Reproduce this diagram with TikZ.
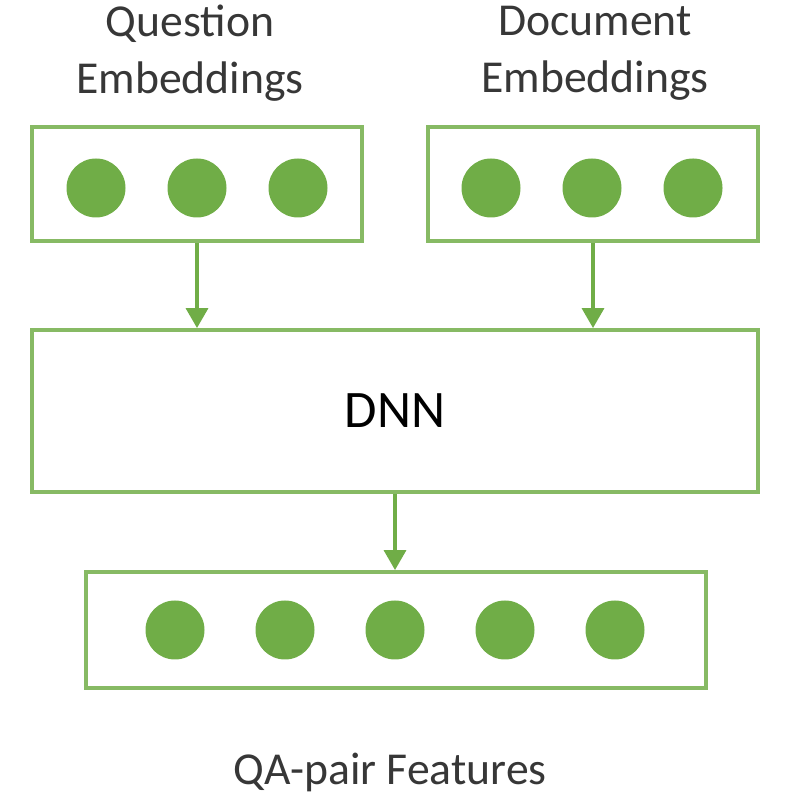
\documentclass[tikz,border=0pt]{standalone}
\usepackage{fontspec}
\setmainfont{Carlito}
\usetikzlibrary{arrows.meta}
\definecolor{boxgreen}{RGB}{135,186,100}
\definecolor{dotgreen}{RGB}{112,173,71}
\definecolor{textgray}{RGB}{55,55,55}
\tikzset{
	vecbox/.style={draw=boxgreen, line width=1.1pt, minimum height=1.14cm, inner sep=0pt},
	unit/.style={circle, fill=dotgreen, minimum size=0.59cm, inner sep=0pt},
	flow/.style={draw=dotgreen, line width=1pt, -{Triangle[length=2mm,width=2.2mm]}},
	lbl/.style={text=textgray, font=\fontsize{13}{16.2}\selectfont, align=center}
}

\begin{document}
\begin{tikzpicture}
			%%%%% START %%%%%
			\useasboundingbox (0, 0) rectangle (8, 8);
			
			\node[lbl] (qlabel) at (1.90, 7.47) {Question\\Embeddings};
			\node[lbl] (dlabel) at (5.95, 7.47) {Document\\Embeddings};
			
			\node[vecbox, minimum width=3.30cm] (qbox) at (1.97, 6.16) {};
			\node[vecbox, minimum width=3.30cm] (dbox) at (5.93, 6.16) {};
			\foreach \i/\x in {1/0.96, 2/1.97, 3/2.98} {
				\node[unit] (q\i) at (\x, 6.12) {};
			}
			\foreach \i/\x in {1/4.91, 2/5.92, 3/6.93} {
				\node[unit] (d\i) at (\x, 6.12) {};
			}
			
			\node[vecbox, minimum width=7.26cm, minimum height=1.62cm, text=black, font=\fontsize{15}{18}\selectfont] (dnn) at (3.95, 3.89) {DNN};
			
			\node[vecbox, minimum width=6.20cm, minimum height=1.16cm] (feat) at (3.96, 1.70) {};
			\foreach \i/\x in {1/1.75, 2/2.85, 3/3.95, 4/5.05, 5/6.15} {
				\node[unit] (f\i) at (\x, 1.70) {};
			}
			
			\node[lbl] (flabel) at (3.90, 0.28) {QA-pair Features};
			
			\draw[flow] (qbox.south) -- (qbox.south |- dnn.north);
			\draw[flow] (dbox.south) -- (dbox.south |- dnn.north);
			\draw[flow] (dnn.south) -- (dnn.south |- feat.north);
			%%%%% END %%%%%
\end{tikzpicture}
\end{document}
